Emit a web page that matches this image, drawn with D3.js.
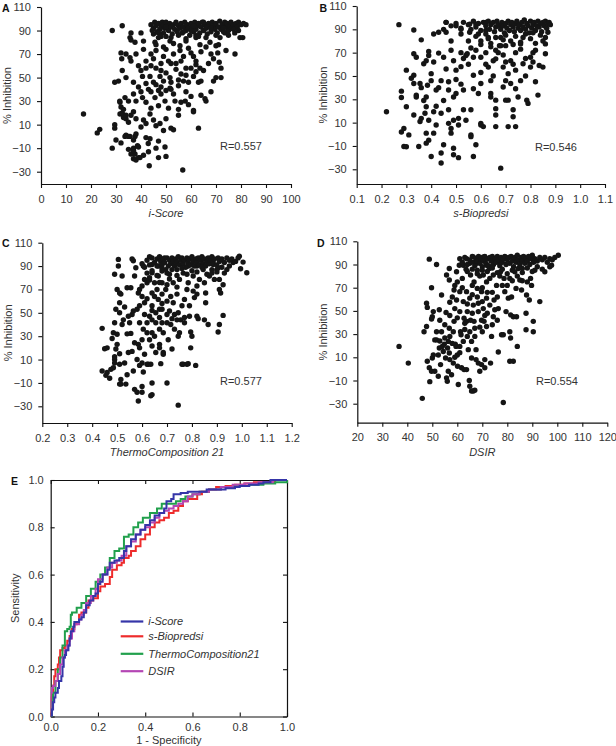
<!DOCTYPE html>
<html><head><meta charset="utf-8">
<script src="https://cdn.jsdelivr.net/npm/d3@7"></script>
<style>
body{margin:0;background:#fff}
svg{display:block}
text{font-family:"Liberation Sans",Arial,Helvetica,sans-serif}
</style>
</head><body>
<svg id="chart" width="616" height="746"></svg>
<script>
// ---------------- DATA ----------------
const inhibitionTicks = [-30,-10,10,30,50,70,90,110];
const iScoreTicks = [0,10,20,30,40,50,60,70,80,90,100];
const bioTicks = [0.1,0.2,0.3,0.4,0.5,0.6,0.7,0.8,0.9,1.0,1.1];
const thermoTicks = [0.2,0.3,0.4,0.5,0.6,0.7,0.8,0.9,1.0,1.1,1.2];
const dsirTicks = [20,30,40,50,60,70,80,90,100,110,120];
const rocTicks = [0,0.2,0.4,0.6,0.8,1.0];
const xTitles = ["i-Score","s-Biopredsi","ThermoComposition 21","DSIR"];
const rLabels = ["R=0.557","R=0.546","R=0.577","R=0.554"];
const panelLetters = ["A","B","C","D","E"];
const rocNames = ["i-Score","s-Biopredsi","ThermoComposition21","DSIR"];

// panel A: i-Score vs % inhibition
const pointsA = [
[17,19],[22.5,3],[23.5,6],[28.5,-10],[28.5,90],[29.5,46],[31,47],[29.5,10],[29.5,7],[30,-3],[32,-5.5],[32.5,94],[32,71],[32.3,66],[32.5,56],
[34,70],[35.6,67],[36,64],[38,70],[41,74],[36,88],[40,88],[35.6,84],[36,82],[37.6,80],[41,81],
[34,50],[37,46],[40,56],[40.6,51],[42,45],[43.6,51],[45,46],[46,58],[47.6,51],[49,47],[50,54],[51.6,50],[52,46],[54,57],[56,53],[57,47],[59,46],[60,58],[61,51],[62,61],[63,46],[64,47],[65,56],[69,47],[70,50],[72,50],
[44,70],[46,73],[49,68],[50,74],[53,70],[55.6,73],[57,68],[60,71],[62,64],[63.6,58],[70,77],[70.7,71],[71.3,63],[72,58],[74,73],[77.6,70],[69,66],
[45,87],[45.6,80],[47,84],[50,85],[51.6,81],[55.6,77],[58,81],[62,84],[63.6,78],[67.6,80],[71.6,84],[73.6,88],[79.6,84],[80.7,84],
[31.6,29],[32,25],[33.6,33],[35,30],[37,36],[38,30],[40,38],[40.6,33],[42,29],[44,38],[45.6,33],[47,39],[48,36],[49.6,30],[50,39],[51.6,41],[53,36],[53.6,30],[55,23],[56,29],[57.7,30],[59,27],[61,22],[64,35],[65.6,32],[66,30],[68,38],
[31.6,19],[33,18],[34,15],[35,12],[36,18],[37,21],[38,15],[40,8],[41,14],[42,11],[43.6,19],[45,14],[46,9],[47.6,11],[49,5],[50,15],[52,7],[53,5.6],[55,18],[61,21],[63,7],
[33.6,0],[35.6,0],[37.6,0],[38,2],[37,-10],[37.6,-15],[38.6,-8],[39.6,-18],[41,-16],[42,-1],[42.9,-6],[43.6,-2],[43,-13],[46,-10],[47,-18],[49.6,-9],[50,-17],[47,-4],[43.3,-25],[56.7,-28.5],
[31.5,30],[33,23],[32.5,20],[33,16],[34,18],[34,1],[35,0],[35,-11],[36,-15],[37,-12],[37,-19],[38,-20],[39,-18],[39,-9],[37,-3],
[39,42],[43,40],[46,44],[48,42],[52,40],[55,43],[58,52],[44,60],[48,62],[51,64],[54,62],[39,60],[42,64],[58,38],[60,34],[47,26],[51,24],[44,24],
[46,78],[49,76],[53,79],[56,64],[59,75],[61,68],[64,72],[66,76],[68,70],[71,78],[48,56],[55,48],[62,55],[67,62],[52,62],[58,58],[45,66],[42,58],
[44,95],[45,92],[45.5,97],[46,94],[46.5,89],[47,96],[47.5,91],[48,93],[48.5,97],[49,88],[49,95],[49.5,92],[50,97],[50.5,94],[51,90],[51.5,96],[52,93],[52.5,87],[53,95],[53.5,91],[54,97],[54.5,89],[55,94],[55.5,92],[56,96],[56.5,88],[57,93],[57.5,97],[58,90],[58.5,95],[59,92],[59.5,86],[60,96],[60.5,93],[61,89],[61.5,97],[62,91],[62.5,94],[63,96],[63.5,88],[64,93],[64.5,97],[65,90],[65.5,95],[66,92],[66.5,87],[67,96],[67.5,93],[68,89],[68.5,97],[69,94],[69.5,91],[70,96],[70.5,88],[71,93],[71.5,98],[72,91],[72.5,95],[73,89],[73.5,97],[74,93],[74.5,96],[75,90],[75.5,94],[76,97],[76.5,92],[77,95],[77.5,88],[78,96],[78.5,93],[79,97],[80,95],[81,96],[82,95],
[52,84],[55,86],[58,83],[60,90],[63,85],[66,84],[70,86],[57,89],[61,94],[65,97],[68,92],[73,92],[77,91],[50,93],[47,88],[44.5,90],[48,85],[62,86],[75,86],[79,90]
];

// panel B: s-Biopredsi vs % inhibition
const pointsB = [
[0.22,19.4],[0.27,94],[0.33,89.4],[0.28,37],[0.28,31.6],[0.30,55],[0.30,23.6],[0.28,2],[0.29,5],[0.31,-0.5],[0.29,-10.4],[0.30,-10.7],
[0.33,69],[0.34,66],[0.32,48],[0.33,50.6],[0.33,43.5],[0.33,16.5],[0.34,33.5],[0.34,32],[0.355,43.5],[0.36,81],[0.35,-10.4],[0.36,13.7],[0.355,11],
[0.37,60.5],[0.38,63],[0.37,29],[0.38,32],[0.39,71],[0.39,67.6],[0.40,52],[0.40,46],[0.385,42],[0.38,23.6],[0.375,18],[0.39,12],[0.38,1],[0.39,-5],[0.38,-7.6],[0.40,-19],
[0.41,62],[0.41,1],[0.41,19.4],[0.41,86],[0.42,38],[0.42,8],[0.43,69.6],[0.43,87.5],[0.44,46],[0.44,-16],[0.44,-24.6],[0.44,18],[0.45,29],[0.45,66],[0.45,90],[0.45,-9],
[0.46,87.5],[0.46,96],[0.47,38],[0.46,56],[0.47,21],[0.48,1],[0.47,9.4],[0.48,80],[0.49,63],[0.49,32],[0.49,12],[0.48,5],[0.49,-12],[0.49,-17.5],
[0.50,93],[0.50,55],[0.50,47],[0.51,-20],[0.51,8],[0.51,13.7],[0.52,86],[0.52,90],[0.53,65],[0.52,43],[0.53,38],[0.53,21],[0.54,12],
[0.54,67.6],[0.545,69],[0.55,80],[0.555,87.5],[0.555,94.5],[0.56,21],[0.56,-0.5],[0.56,-2],[0.57,50.6],[0.57,39],
[0.58,-9],[0.57,-19],[0.58,94.5],[0.59,86],[0.59,35],[0.60,43.5],[0.60,53],[0.60,8],[0.60,9.4],[0.61,6.6],
[0.62,89],[0.62,96],[0.63,83],[0.63,57.6],[0.64,46],[0.64,35],[0.64,32],[0.65,63],[0.66,64.7],[0.66,22],[0.66,16.5],[0.66,6.6],[0.66,29.3],
[0.67,70],[0.675,76],[0.68,83],[0.68,-29],[0.68,92],[0.69,40.6],[0.69,57.6],[0.70,46],[0.70,29.3],[0.71,6.6],[0.71,29.3],[0.72,63],[0.72,43.5],[0.73,21],[0.73,15],[0.74,6.6],
[0.74,55],[0.74,39],[0.75,32],[0.76,46],[0.76,73],[0.76,77.5],[0.77,60.5],[0.785,29.3],[0.79,26.5],[0.80,66],[0.80,57.6],[0.81,62],[0.81,70],
[0.83,33.6],[0.835,59],[0.85,57.6],[0.86,69],[0.86,83],[0.86,77.5],[0.87,87.5],
[0.43,40],[0.47,45],[0.52,58],[0.55,60],[0.58,72],[0.62,70],[0.64,75],[0.57,66],[0.6,77],[0.69,68],[0.71,52],[0.73,60],[0.78,50],[0.82,45],[0.65,50],[0.5,35],[0.42,24],[0.36,40],
[0.62,60],[0.66,72],[0.7,62],[0.74,70],[0.78,65],[0.82,72],[0.6,66],[0.56,74],[0.52,70],[0.48,72],[0.7,76],
[0.46,96],[0.48,93],[0.5,95],[0.52,91],[0.53,96],[0.55,94],[0.56,90],[0.57,97],[0.58,92],[0.59,95],[0.6,89],[0.61,96],[0.62,93],[0.63,97],[0.635,90],[0.64,94],[0.65,96],[0.655,88],[0.66,92],[0.665,97],[0.67,94],[0.68,90],[0.685,96],[0.69,93],[0.695,87],[0.7,95],[0.705,91],[0.71,97],[0.715,89],[0.72,94],[0.725,96],[0.73,92],[0.735,88],[0.74,95],[0.745,97],[0.75,91],[0.755,94],[0.76,89],[0.765,96],[0.77,92],[0.775,98],[0.78,90],[0.785,95],[0.79,93],[0.795,87],[0.8,97],[0.805,91],[0.81,94],[0.815,96],[0.82,89],[0.825,93],[0.83,97],[0.835,92],[0.84,95],[0.845,88],[0.85,96],[0.855,93],[0.86,97],[0.865,91],[0.87,95],[0.875,96],[0.88,94],
[0.58,84],[0.6,80],[0.62,86],[0.64,78],[0.66,83],[0.68,76],[0.7,85],[0.72,80],[0.74,84],[0.76,79],[0.78,86],[0.8,82],[0.82,78],[0.84,85],[0.85,80],[0.63,82],[0.69,81],[0.73,77],[0.77,83],[0.81,87]
];

// panel C: ThermoComposition 21 vs % inhibition
const pointsC = [
[0.44,36.7],[0.44,0.2],[0.45,19.3],[0.46,20],[0.455,-3.5],[0.46,-1],[0.47,-6],[0.475,1.6],[0.485,3],[0.48,28],[0.485,33],
[0.49,83],[0.49,41.5],[0.49,10],[0.49,12.5],[0.49,7],[0.495,19],[0.50,70],[0.50,23],[0.50,31.6],[0.495,53],
[0.505,95.7],[0.505,90],[0.51,67],[0.51,58.6],[0.51,50],[0.51,15],[0.51,6],[0.51,-11],[0.515,-11],[0.52,81.5],[0.515,66],[0.52,40],[0.515,-7],
[0.53,55],[0.525,44],[0.53,7],[0.535,-11],[0.54,71.5],[0.545,47],[0.54,32],[0.545,16],[0.54,-3],[0.555,71.5],[0.56,48.6],[0.55,41.5],[0.555,32.4],[0.56,17],
[0.56,96],[0.565,94.5],[0.57,81.5],[0.565,51.5],[0.57,24.4],[0.565,0.2],[0.57,-15.5],[0.58,53],[0.58,10],[0.585,23],[0.575,88.6],[0.58,-18],
[0.585,67],[0.59,70],[0.59,56],[0.59,41.5],[0.59,20],[0.59,5],[0.585,-25.5],[0.60,73],[0.60,64],[0.60,27],[0.60,7],[0.60,-13],[0.60,-18],
[0.605,90],[0.61,78.6],[0.61,58.6],[0.61,48.6],[0.605,36],[0.61,14.5],[0.605,-0.6],[0.62,75.7],[0.62,41.5],[0.62,33],[0.62,6],[0.625,6],
[0.63,80],[0.63,98],[0.63,47],[0.63,27],[0.635,6],[0.64,91.4],[0.64,84.3],[0.64,67],[0.64,56],[0.64,44],[0.64,33],[0.64,21.6],[0.64,-10],[0.64,-20],[0.635,-21],
[0.65,75.7],[0.65,64],[0.655,50],[0.655,41.5],[0.65,30],[0.655,16],[0.66,90],[0.665,81.5],[0.665,61.5],[0.67,53],[0.67,46],[0.67,36],[0.67,23],[0.67,20],
[0.68,85.7],[0.68,75.7],[0.68,66],[0.68,53],[0.68,41.5],[0.685,33],[0.685,16],[0.685,14.5],[0.675,6.5],[0.70,-10],
[0.69,97],[0.695,87],[0.695,70],[0.70,60],[0.70,48.6],[0.70,41.5],[0.705,27],[0.71,83],[0.715,64],[0.71,51.5],[0.715,40],[0.72,19],
[0.725,75.7],[0.725,58.6],[0.73,48.6],[0.73,36],[0.74,87],[0.74,66],[0.745,50],[0.74,44],[0.745,30],[0.75,33],[0.75,78.6],[0.755,44],[0.76,6],[0.745,-29],[0.765,6],
[0.765,84],[0.77,61.5],[0.77,46],[0.77,41.5],[0.78,6],[0.785,6.5],[0.785,90],[0.785,75.7],[0.79,56],[0.79,47],[0.795,33.6],[0.80,30],[0.795,20],
[0.805,81.5],[0.805,68.6],[0.81,63],[0.815,5],[0.82,90],[0.82,73],[0.82,47],[0.825,45],[0.83,78.6],
[0.845,87],[0.85,75.7],[0.855,58.6],[0.85,44],[0.855,67],[0.865,40],[0.87,81.5],[0.88,84],[0.885,91.4],[0.89,78.6],[0.90,87],[0.905,88.6],
[0.91,40],[0.905,33.6],[0.91,70],[0.915,67],[0.925,47.8],[0.91,78.6],[0.925,74],[0.93,84],[0.94,87],[0.965,93],[0.99,98.5],[0.995,87.7],[1.005,93.4],[1.02,84.3],
[0.62,62],[0.66,70],[0.7,74],[0.74,72],[0.78,70],[0.82,66],[0.64,52],[0.68,58],[0.72,45],[0.76,56],
[0.6,92],[0.61,89],[0.62,95],[0.63,91],[0.64,97],[0.65,93],[0.66,96],[0.665,90],[0.67,98],[0.675,94],[0.68,91],[0.685,96],[0.69,93],[0.7,97],[0.705,90],[0.71,95],[0.715,92],[0.72,97],[0.725,94],[0.73,90],[0.735,96],[0.74,93],[0.745,98],[0.75,91],[0.755,95],[0.76,97],[0.765,92],[0.77,95],[0.775,89],[0.78,97],[0.785,93],[0.79,96],[0.795,91],[0.8,98],[0.805,94],[0.81,90],[0.815,96],[0.82,93],[0.825,97],[0.83,91],[0.835,95],[0.84,98],[0.845,92],[0.85,96],[0.855,90],[0.86,94],[0.865,97],[0.87,92],[0.875,95],[0.88,98],[0.885,93],[0.89,96],[0.9,91],[0.905,97],[0.91,94],[0.92,96],[0.93,93],[0.94,97],[0.95,95],[0.96,96],[0.975,94],[0.985,97],
[0.62,84],[0.64,86],[0.66,82],[0.68,88],[0.7,84],[0.72,87],[0.74,82],[0.76,88],[0.78,83],[0.8,86],[0.82,85],[0.84,89],[0.86,83],[0.88,87],[0.9,85],[0.92,89],[0.95,90],[0.63,78],[0.67,76],[0.71,79]
];

// panel D: DSIR vs % inhibition
const pointsD = [
[36.7,19.4],[40.4,5],[46,-25.4],[48.8,94.6],[51.7,90],[47.7,56.6],[48,53],[46.7,32],[47.7,36.6],[49.7,70],[50,45],[49.7,43],[50.4,49.4],
[48,6.6],[48.8,1],[49,-11],[49.7,-2],[50,9.4],[50.4,12],[51,25],[51.7,25],[51.7,32],[51,-2],[52.4,-6.3],
[52.8,51],[53,42],[52.8,18],[52.4,12],[53.7,63.7],[53.7,32],[53.3,3.7],[54,19.4],[54.8,21.4],[55,26.6],[54.4,15],[55.3,9.4],[55.5,48.6],
[55.7,81],[55.7,-7.7],[56,-10.6],[56.4,-2],[56.4,23.7],[56.1,18],[56.8,86.6],[56.8,76.6],[57,57.4],[57,46],[56.8,35],[56.8,13.7],[57,8],
[57.7,-5],[58.4,5],[58,22],[58.7,41],[58.4,32],[58.7,68],[59,72],[59,52],[59.2,21.4],[59.5,19.4],
[59.7,83.7],[60,75],[59.7,59.4],[60,12],[60.1,2.3],[60.4,-13.4],[60.8,89.4],[61,66.6],[61,49.4],[61.3,32],[61.5,29.4],[61,19.4],[61.7,1],
[62.4,89.4],[62.4,58],[62.7,43.7],[63,39.4],[62.4,23.7],[62.7,-0.6],[63.5,86],[63.7,95],[63.7,66.6],[64,49.4],[63.7,41],[64.4,16.6],[63.7,-0.6],
[64.8,-10],[65,-15],[65.7,-19],[66.4,-19],[67,-18.3],[65,91],[65.3,81],[65,61],[65.3,42],[65,32],[65.7,23.7],[65.7,9.4],
[66.4,96.6],[66.7,75],[66.4,55],[66.7,41],[67,35],[67.5,16.6],[67.5,8],[67.7,91],[68,85],[68,69.4],[68.4,56.6],[68.4,49.4],[68.4,5],
[69,-2],[69.7,3.7],[69.7,66.6],[69.7,42],[70,32],[70.4,96.6],[70.4,81],[70.4,52],[70.7,41],[71,8],[71,1],
[71.7,89.4],[71.7,75],[71.7,61],[72,48],[71.7,36.6],[72.8,86.6],[73,55],[73.3,5],[73.7,28],[74,93.7],[74.4,81],[74.7,59.4],[75,51],[74.4,45],
[75.7,72],[76,62],[76.4,52],[76.4,14.6],[77,91],[77.3,83.7],[77.7,29.4],[78.4,29.4],[78.4,-29],[78.7,78],[79,66.6],[79.5,49.4],
[80,72],[80.4,61],[81,6.6],[81,32],[81.3,26.6],[81.3,46.6],[81.7,62],[82.4,6.6],[82.4,45],[83,83.7],[83.5,69.4],[83.7,45],[84,19.4],
[84.4,86.6],[85,76.6],[85.7,68],[86,86.6],[87.5,33.7],[87.5,48],[87.7,63.7],[88,75],[88.8,59.4],[89.3,78],[89.7,72],[90.4,41],[90.4,32],
[91,85],[93,58],[95,83.7],[97,88],[97.7,89.4],[100.4,98],
[58,62],[62,70],[64,56],[66,48],[68,62],[70,58],[72,66],[60,44],[63,34],[67,28],[55,38],[57,28],[61,14],[53,24],[59,10],[64,28],[69,36],[74,38],
[62,78],[66,72],[70,70],[74,66],[78,72],[82,76],[86,76],[66,64],[71,46],[76,42],
[61,95],[62,92],[63,96],[64,90],[65,94],[66,97],[66.5,92],[67,89],[67.5,95],[68,93],[68.5,97],[69,91],[69.5,95],[70,88],[70.5,93],[71,97],[71.5,91],[72,95],[72.5,89],[73,96],[73.5,93],[74,97],[74.5,90],[75,95],[75.5,92],[76,97],[76.5,94],[77,89],[77.5,96],[78,92],[78.5,95],[79,97],[79.5,90],[80,94],[80.5,96],[81,91],[81.5,97],[82,93],[82.5,88],[83,96],[83.5,92],[84,98],[84.5,94],[85,90],[85.5,96],[86,93],[86.5,97],[87,91],[87.5,95],[88,93],[88.5,97],[89,90],[89.5,95],[90,98],[90.5,92],[91,95],[92,93],[93,96],[94,94],[95,96],[96,92],[97,95],[98,94],[99,96],
[64,84],[66,86],[68,82],[70,85],[72,84],[74,87],[76,83],[78,86],[80,82],[82,85],[84,80],[86,83],[88,87],[90,84],[92,88],[94,86],[69,80],[73,78],[77,80],[81,78]
];

// panel E: ROC curves [1 - specificity, sensitivity]
const rocIScore = [[0,0],[0.005,0.03],[0.01,0.06],[0.015,0.08],[0.02,0.1],[0.03,0.12],[0.035,0.15],[0.045,0.17],[0.05,0.21],[0.055,0.25],[0.06,0.26],[0.065,0.28],[0.075,0.3],[0.08,0.33],[0.085,0.36],[0.095,0.38],[0.1,0.4],[0.12,0.41],[0.13,0.42],[0.14,0.44],[0.15,0.47],[0.165,0.49],[0.18,0.51],[0.19,0.52],[0.2,0.56],[0.21,0.57],[0.22,0.6],[0.24,0.62],[0.25,0.65],[0.27,0.66],[0.29,0.67],[0.31,0.7],[0.32,0.72],[0.34,0.75],[0.36,0.77],[0.38,0.79],[0.4,0.81],[0.42,0.83],[0.44,0.85],[0.46,0.86],[0.48,0.88],[0.49,0.91],[0.51,0.92],[0.52,0.94],[0.55,0.945],[0.58,0.95],[0.62,0.95],[0.66,0.96],[0.7,0.96],[0.74,0.965],[0.78,0.97],[0.8,0.975],[0.84,0.98],[0.88,0.985],[0.9,0.99],[0.93,1],[1,1]];
const rocBiopredsi = [[0,0],[0,0.08],[0.005,0.1],[0.01,0.13],[0.015,0.17],[0.02,0.2],[0.03,0.22],[0.035,0.25],[0.04,0.28],[0.05,0.29],[0.06,0.3],[0.07,0.32],[0.08,0.34],[0.09,0.37],[0.1,0.39],[0.11,0.4],[0.12,0.43],[0.13,0.44],[0.15,0.46],[0.16,0.49],[0.18,0.5],[0.2,0.53],[0.21,0.55],[0.23,0.56],[0.25,0.59],[0.26,0.62],[0.28,0.64],[0.3,0.65],[0.31,0.67],[0.33,0.68],[0.34,0.7],[0.36,0.72],[0.38,0.75],[0.4,0.77],[0.42,0.8],[0.44,0.82],[0.46,0.83],[0.48,0.84],[0.5,0.86],[0.52,0.87],[0.54,0.89],[0.56,0.91],[0.58,0.92],[0.6,0.92],[0.62,0.94],[0.64,0.95],[0.67,0.96],[0.7,0.97],[0.74,0.975],[0.78,0.98],[0.82,0.985],[0.86,0.99],[0.9,0.99],[0.95,1],[1,1]];
const rocThermo = [[0,0],[0.005,0.06],[0.01,0.1],[0.02,0.15],[0.03,0.2],[0.04,0.25],[0.05,0.3],[0.06,0.36],[0.07,0.37],[0.08,0.38],[0.085,0.43],[0.09,0.44],[0.11,0.46],[0.13,0.48],[0.15,0.51],[0.17,0.54],[0.19,0.57],[0.21,0.6],[0.23,0.63],[0.25,0.67],[0.27,0.7],[0.29,0.71],[0.31,0.76],[0.33,0.77],[0.35,0.8],[0.37,0.82],[0.39,0.84],[0.42,0.86],[0.45,0.88],[0.47,0.9],[0.5,0.9],[0.53,0.91],[0.55,0.92],[0.57,0.93],[0.6,0.94],[0.63,0.95],[0.67,0.96],[0.72,0.97],[0.78,0.975],[0.84,0.98],[0.9,0.985],[0.95,0.99],[1,1]];
const rocDSIR = [[0,0],[0,0.1],[0.005,0.12],[0.01,0.13],[0.02,0.15],[0.03,0.18],[0.04,0.22],[0.05,0.25],[0.06,0.28],[0.07,0.3],[0.08,0.33],[0.09,0.36],[0.1,0.39],[0.12,0.41],[0.13,0.43],[0.14,0.45],[0.15,0.48],[0.17,0.51],[0.19,0.54],[0.2,0.58],[0.22,0.6],[0.24,0.63],[0.26,0.65],[0.28,0.66],[0.3,0.68],[0.32,0.72],[0.34,0.74],[0.36,0.77],[0.38,0.79],[0.4,0.8],[0.42,0.82],[0.44,0.84],[0.46,0.86],[0.48,0.87],[0.5,0.88],[0.52,0.89],[0.54,0.9],[0.56,0.91],[0.58,0.93],[0.6,0.94],[0.63,0.95],[0.67,0.96],[0.72,0.97],[0.77,0.98],[0.82,0.985],[0.88,0.99],[0.94,1],[1,1]];

// ---------------- LAYOUT ----------------
const svg = d3.select("#chart");
const FONT = 11;

const panels = [
  {pts: pointsA, xd:[0,100],   xt:iScoreTicks, fmt:d3.format("d"),   x0:41,    x1:291,   y110:7,     yM30:171.7, bottom:184,   letter:[2,12],    r:[220,149.5]},
  {pts: pointsB, xd:[0.1,1.1], xt:bioTicks,    fmt:d3.format(".1f"), x0:356.7, x1:605,   y110:6,     yM30:169.3, bottom:184,   letter:[319.5,12],r:[535,150.5]},
  {pts: pointsC, xd:[0.2,1.2], xt:thermoTicks, fmt:d3.format(".1f"), x0:42.3,  x1:291.7, y110:242.7, yM30:406.3, bottom:423,   letter:[2,247],   r:[220,385]},
  {pts: pointsD, xd:[20,120],  xt:dsirTicks,   fmt:d3.format("d"),   x0:357.3, x1:607.3, y110:241.3, yM30:403.7, bottom:422.7, letter:[317,246.5],r:[536,385]}
];

function styleAxis(g){
  g.selectAll(".domain").attr("stroke","#111").attr("stroke-width",1.2);
  g.selectAll(".tick line").attr("stroke","#111").attr("stroke-width",1.1);
  g.selectAll(".tick text").attr("fill","#333").style("font-size",FONT+"px")
    .style("font-family","'Liberation Sans',Arial,sans-serif");
}

panels.forEach((p,i)=>{
  const g = svg.append("g");
  const x = d3.scaleLinear().domain(p.xd).range([p.x0,p.x1]);
  const yRef = d3.scaleLinear().domain([-30,110]).range([p.yM30,p.y110]);
  const y = d3.scaleLinear().domain([yRef.invert(p.bottom),110]).range([p.bottom,p.y110]);

  g.append("g").attr("transform",`translate(0,${p.bottom})`)
    .call(d3.axisBottom(x).tickValues(p.xt).tickFormat(p.fmt).tickSize(4).tickSizeOuter(0).tickPadding(7))
    .call(styleAxis);
  g.append("g").attr("transform",`translate(${p.x0},0)`)
    .call(d3.axisLeft(y).tickValues(inhibitionTicks).tickSize(4).tickSizeOuter(0).tickPadding(6))
    .call(styleAxis);

  g.append("g").selectAll("circle").data(p.pts).join("circle")
    .attr("cx",d=>x(d[0])).attr("cy",d=>y(d[1])).attr("r",2.7).attr("fill","#151515");

  g.append("text").attr("x",(p.x0+p.x1)/2).attr("y",p.bottom+33)
    .attr("text-anchor","middle").style("font-size",FONT+"px").style("font-style","italic")
    .attr("fill","#333").text(xTitles[i]);
  g.append("text").attr("transform",`translate(${p.x0-34},${(p.y110+p.bottom)/2}) rotate(-90)`)
    .attr("text-anchor","middle").attr("dy","0.35em").style("font-size",FONT+"px")
    .attr("fill","#333").text("% Inhibition");
  g.append("text").attr("x",p.letter[0]).attr("y",p.letter[1])
    .style("font-size","10.5px").style("font-weight","bold").attr("fill","#111").text(panelLetters[i]);
  g.append("text").attr("x",p.r[0]).attr("y",p.r[1])
    .style("font-size",FONT+"px").attr("fill","#333").text(rLabels[i]);
});

// ---------- Panel E ----------
{
  const L=50.7, R=287, T=480, B=716.5;
  const x = d3.scaleLinear().domain([0,1]).range([L,R]);
  const y = d3.scaleLinear().domain([0,1]).range([B,T]);
  const g = svg.append("g");
  const fmt = d3.format(".1f");
  g.append("g").attr("transform",`translate(0,${B})`)
    .call(d3.axisBottom(x).tickValues(rocTicks).tickFormat(fmt).tickSize(-4).tickSizeOuter(0).tickPadding(7)).call(styleAxis);
  g.append("g").attr("transform",`translate(0,${T})`)
    .call(d3.axisTop(x).tickValues(rocTicks).tickFormat("").tickSize(-4).tickSizeOuter(0)).call(styleAxis);
  g.append("g").attr("transform",`translate(${L},0)`)
    .call(d3.axisLeft(y).tickValues(rocTicks).tickFormat(fmt).tickSize(-4).tickSizeOuter(0).tickPadding(7)).call(styleAxis);
  g.append("g").attr("transform",`translate(${R},0)`)
    .call(d3.axisRight(y).tickValues(rocTicks).tickFormat("").tickSize(-4).tickSizeOuter(0)).call(styleAxis);

  const series = [
    {name:rocNames[1], data:rocBiopredsi, color:"#ee2b2b"},
    {name:rocNames[2], data:rocThermo,    color:"#21a04c"},
    {name:rocNames[3], data:rocDSIR,      color:"#b446b4"},
    {name:rocNames[0], data:rocIScore,    color:"#3535a8"}
  ];
  const line = d3.line().x(d=>x(d[0])).y(d=>y(d[1])).curve(d3.curveStepAfter);
  g.append("clipPath").attr("id","rocclip").append("rect")
    .attr("x",L).attr("y",T-1).attr("width",R-L+1).attr("height",B-T+1);
  series.forEach(s=>{
    g.append("path").attr("d",line(s.data)).attr("fill","none")
      .attr("stroke",s.color).attr("stroke-width",2).attr("clip-path","url(#rocclip)");
  });

  const legendOrder = [series[3],series[0],series[1],series[2]];
  const legendY = [621.5,636.3,653.8,671.2];
  legendOrder.forEach((s,i)=>{
    g.append("line").attr("x1",120.7).attr("x2",143.3).attr("y1",legendY[i]).attr("y2",legendY[i])
      .attr("stroke",s.color).attr("stroke-width",2.2);
    g.append("text").attr("x",148.3).attr("y",legendY[i]).attr("dy","0.35em")
      .style("font-size",FONT+"px").style("font-style","italic").attr("fill","#333").text(s.name);
  });

  g.append("text").attr("x",(L+R)/2).attr("y",B+27).attr("text-anchor","middle")
    .style("font-size",FONT+"px").attr("fill","#333").text("1 - Specificity");
  g.append("text").attr("transform",`translate(15,${(T+B)/2}) rotate(-90)`)
    .attr("text-anchor","middle").attr("dy","0.35em").style("font-size",FONT+"px")
    .attr("fill","#333").text("Sensitivity");
  g.append("text").attr("x",11).attr("y",485)
    .style("font-size","10.5px").style("font-weight","bold").attr("fill","#111").text(panelLetters[4]);
}
</script>
</body></html>
